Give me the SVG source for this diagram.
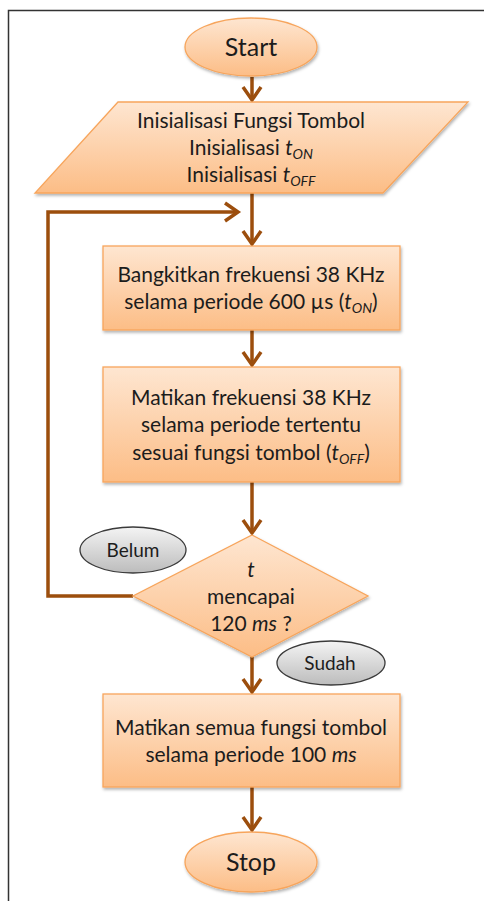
<svg xmlns="http://www.w3.org/2000/svg" width="484" height="901" viewBox="0 0 484 901">
<defs>
<linearGradient id="og" x1="0" y1="0" x2="0" y2="1">
<stop offset="0" stop-color="#fee6d1"/>
<stop offset="1" stop-color="#fcbd86"/>
</linearGradient>
<linearGradient id="gg" x1="0" y1="0" x2="0" y2="1">
<stop offset="0" stop-color="#f4f4f4"/>
<stop offset="1" stop-color="#bcbcbc"/>
</linearGradient>
<filter id="sh" x="-10%" y="-10%" width="120%" height="130%">
<feDropShadow dx="1" dy="2" stdDeviation="1.5" flood-color="#000" flood-opacity="0.3"/>
</filter>
<marker id="ah" markerUnits="userSpaceOnUse" markerWidth="24" markerHeight="26" viewBox="-18 -13 24 26" refX="0" refY="0" orient="auto">
<path d="M-13,-9 L0,0 L-13,9" fill="none" stroke="#9c4e0d" stroke-width="3.5"/>
</marker>
</defs>
<style>
.o{fill:url(#og);stroke:#f7a55c;stroke-width:1.3;filter:url(#sh)}
.g{fill:url(#gg);stroke:#3a3a3a;stroke-width:1.3}
.t{font-family:Lato,"Liberation Sans",sans-serif;font-size:21px;fill:#1c1c1c;text-anchor:middle}
.big{font-size:25px}
.lab{font-size:19px}
.it{font-style:italic}
.sub{font-size:14px;font-style:italic}
.c{fill:none;stroke:#9c4e0d;stroke-width:3.5}
</style>
<rect width="484" height="901" fill="#fff"/>
<path d="M8.5,901 V10.5 H484" fill="none" stroke="#333" stroke-width="1.5"/>
<g id="connectors">
<path class="c" d="M252,77 V100" marker-end="url(#ah)"/>
<path class="c" d="M252,193 V244" marker-end="url(#ah)"/>
<path class="c" d="M133,596 H48 V212 H238" marker-end="url(#ah)"/>
<path class="c" d="M252,330 V365" marker-end="url(#ah)"/>
<path class="c" d="M252,482 V533" marker-end="url(#ah)"/>
<path class="c" d="M252,657 V692" marker-end="url(#ah)"/>
<path class="c" d="M252,787 V830" marker-end="url(#ah)"/>
</g>
<g id="start">
<ellipse class="o" cx="251" cy="47" rx="66" ry="29"/>
<text class="t big" x="251" y="56">Start</text>
</g>
<g id="init">
<polygon class="o" points="118,102 468,102 383,193 35,193"/>
<text class="t" x="251" y="128">Inisialisasi Fungsi Tombol</text>
<text class="t" x="251" y="155">Inisialisasi <tspan class="it">t</tspan><tspan class="sub" dy="4">ON</tspan></text>
<text class="t" x="251" y="182">Inisialisasi <tspan class="it">t</tspan><tspan class="sub" dy="4">OFF</tspan></text>
</g>
<g id="bangkitkan">
<rect class="o" x="103" y="246" width="297" height="84"/>
<text class="t" x="251" y="282">Bangkitkan frekuensi 38 KHz</text>
<text class="t" x="251" y="309">selama periode 600 µs (<tspan class="it">t</tspan><tspan class="sub" dy="4">ON</tspan><tspan dy="-4">)</tspan></text>
</g>
<g id="matikan">
<rect class="o" x="103" y="367" width="297" height="115"/>
<text class="t" x="251" y="405">Matikan frekuensi 38 KHz</text>
<text class="t" x="251" y="432">selama periode tertentu</text>
<text class="t" x="251" y="460">sesuai fungsi tombol (<tspan class="it">t</tspan><tspan class="sub" dy="4">OFF</tspan><tspan dy="-4">)</tspan></text>
</g>
<g id="decision">
<polygon class="o" points="252,535 368,596 252,657 133,596"/>
<text class="t it" x="251" y="577">t</text>
<text class="t" x="251" y="604">mencapai</text>
<text class="t" x="251" y="631">120 <tspan class="it">ms</tspan> ?</text>
</g>
<g id="belum">
<ellipse class="g" cx="133" cy="550" rx="53" ry="23"/>
<text class="t lab" x="133" y="557">Belum</text>
</g>
<g id="sudah">
<ellipse class="g" cx="331" cy="663" rx="54" ry="22"/>
<text class="t lab" x="330" y="670">Sudah</text>
</g>
<g id="matikan-semua">
<rect class="o" x="103" y="694" width="297" height="93"/>
<text class="t" x="251" y="735">Matikan semua fungsi tombol</text>
<text class="t" x="251" y="762">selama periode 100 <tspan class="it">ms</tspan></text>
</g>
<g id="stop">
<ellipse class="o" cx="251" cy="862" rx="66" ry="30"/>
<text class="t big" x="251" y="871">Stop</text>
</g>
</svg>
